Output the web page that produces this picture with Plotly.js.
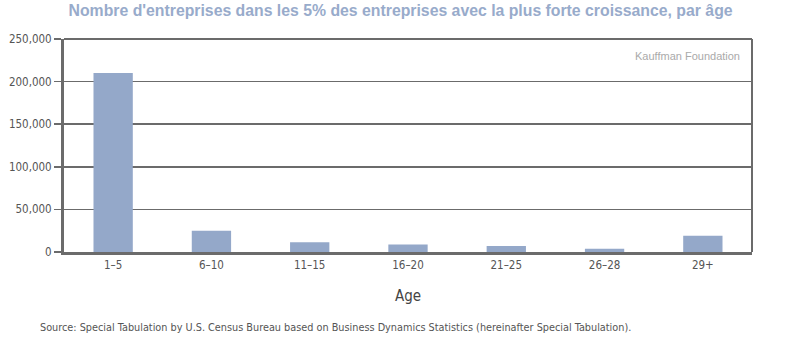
<!DOCTYPE html>
<html>
<head>
<meta charset="utf-8">
<script src="https://cdn.plot.ly/plotly-3.0.1.min.js"></script>
<style>html,body{margin:0;padding:0;background:#fff;}#chart{width:787px;height:352px;}</style>
</head>
<body>
<div id="chart"></div>
<script>
const ageGroups = ["1–5", "6–10", "11–15", "16–20", "21–25", "26–28", "29+"];
const firmCounts = [210000, 25000, 11500, 8700, 7000, 3700, 19000];
const yTickValues = [0, 50000, 100000, 150000, 200000, 250000];
const yTickLabels = ["0", "50,000", "100,000", "150,000", "200,000", "250,000"];

const narrow = '"DejaVu Sans Condensed", "Liberation Sans", sans-serif';
const axisColor = '#6b6b6b';

const data = [{
  type: 'bar',
  x: ageGroups,
  y: firmCounts,
  width: 0.4,
  marker: {color: '#94a8c9', line: {width: 0}},
  hoverinfo: 'x+y'
}];

const layout = {
  width: 787, height: 352,
  margin: {l: 64, r: 35, t: 39, b: 100},
  paper_bgcolor: '#ffffff', plot_bgcolor: '#ffffff',
  showlegend: false,
  title: {
    text: "Nombre d'entreprises dans les 5% des entreprises avec la plus forte croissance, par âge",
    font: {family: '"Liberation Sans", Arial, sans-serif', size: 15.8, color: '#98abcb', weight: 'bold'},
    x: 0.509, xanchor: 'center', y: 0.985, yanchor: 'top'
  },
  xaxis: {
    type: 'category',
    showline: true, linecolor: axisColor, linewidth: 3,
    showgrid: false, ticks: '',
    tickfont: {family: narrow, size: 11.5, color: '#555'},
    title: {text: 'Age', font: {family: narrow, size: 15, color: '#444'}, standoff: 20},
    fixedrange: true
  },
  yaxis: {
    range: [0, 250000],
    tickvals: yTickValues, ticktext: yTickLabels,
    showline: true, linecolor: axisColor, linewidth: 3,
    showgrid: true, gridcolor: axisColor, gridwidth: 1.5,
    zeroline: false,
    ticks: 'outside', ticklen: 7, tickcolor: axisColor, tickwidth: 1.5,
    tickfont: {family: narrow, size: 11.5, color: '#555'},
    fixedrange: true
  },
  shapes: [
    {type: 'line', xref: 'paper', yref: 'paper', x0: 0, x1: 1, y0: 1, y1: 1, line: {color: axisColor, width: 2}},
    {type: 'line', xref: 'paper', yref: 'paper', x0: 1, x1: 1, y0: 0, y1: 1, line: {color: axisColor, width: 2}}
  ],
  annotations: [
    {text: 'Kauffman Foundation', xref: 'paper', yref: 'paper', x: 0.985, y: 0.96, xanchor: 'right', yanchor: 'top',
     showarrow: false, font: {family: '"Liberation Sans", sans-serif', size: 11, color: '#aaaaaa'}},
    {text: 'Source: Special Tabulation by U.S. Census Bureau based on Business Dynamics Statistics (hereinafter Special Tabulation).',
     xref: 'paper', yref: 'paper', x: -0.038, y: -0.355, xanchor: 'left', yanchor: 'middle',
     showarrow: false, font: {family: narrow, size: 10.8, color: '#555'}}
  ]
};

Plotly.newPlot('chart', data, layout, {displayModeBar: false, staticPlot: true});
</script>
</body>
</html>
